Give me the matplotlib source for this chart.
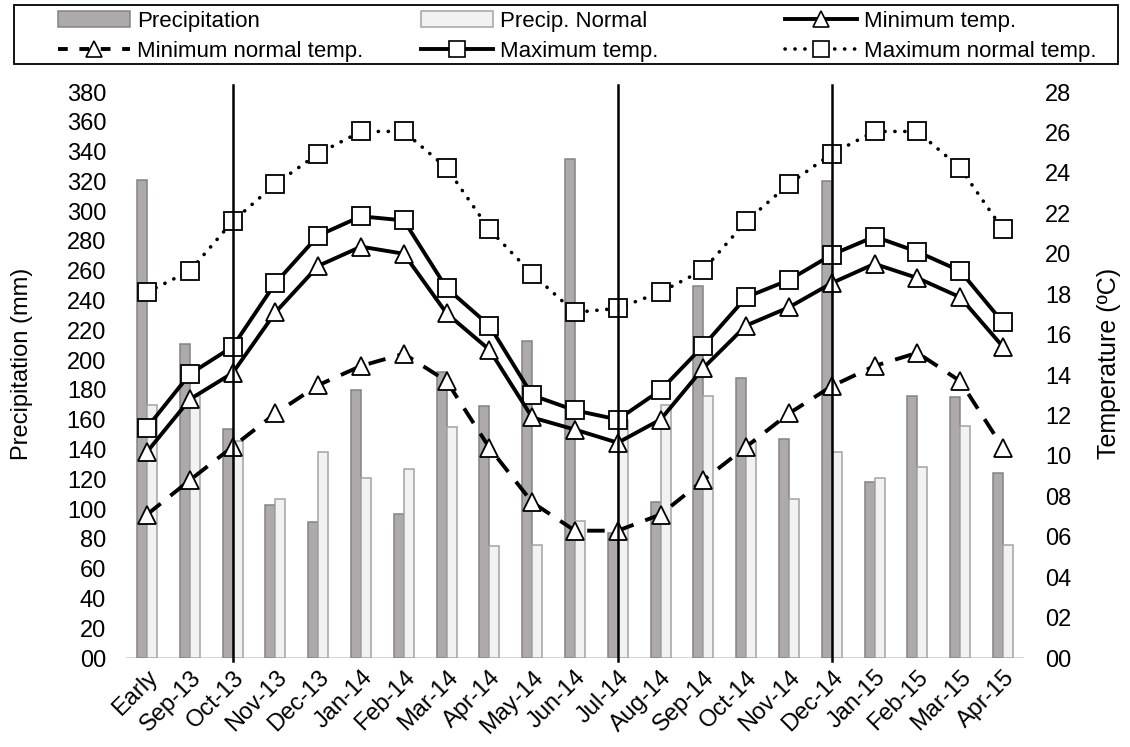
import matplotlib
matplotlib.use("Agg")
import matplotlib.pyplot as plt
from matplotlib.patches import Patch, Rectangle
from matplotlib.lines import Line2D
from matplotlib.transforms import ScaledTranslation
import numpy as np

categories = ["Early", "Sep-13", "Oct-13", "Nov-13", "Dec-13", "Jan-14", "Feb-14",
              "Mar-14", "Apr-14", "May-14", "Jun-14", "Jul-14", "Aug-14", "Sep-14",
              "Oct-14", "Nov-14", "Dec-14", "Jan-15", "Feb-15", "Mar-15", "Apr-15"]

# precipitation (mm)
precip = [321, 211, 154, 103, 91, 180, 97, 192, 169, 213, 335, 84, 105, 250,
          188, 147, 320, 118, 176, 175, 124]
precip_normal = [170, 176, 146, 107, 138, 121, 127, 155, 75, 76, 92, 160, 170, 176,
                 145, 107, 138, 121, 128, 156, 76]

# temperature (C)
min_temp = [10.2, 12.8, 14.1, 17.1, 19.4, 20.35, 20.0, 17.05, 15.25, 11.9, 11.3, 10.65,
            11.8, 14.35, 16.45, 17.35, 18.55, 19.5, 18.8, 17.85, 15.4]
min_normal = [7.1, 8.8, 10.45, 12.1, 13.5, 14.45, 15.05, 13.7, 10.4, 7.7, 6.3, 6.3,
              7.1, 8.8, 10.45, 12.1, 13.45, 14.45, 15.1, 13.7, 10.4]
max_temp = [11.4, 14.05, 15.4, 18.55, 20.9, 21.85, 21.65, 18.3, 16.45, 13.0, 12.25, 11.8,
            13.25, 15.45, 17.85, 18.7, 19.95, 20.85, 20.1, 19.15, 16.6]
max_normal = [18.1, 19.15, 21.6, 23.45, 24.95, 26.05, 26.05, 24.25, 21.2, 19.0, 17.1, 17.3,
              18.1, 19.2, 21.6, 23.45, 24.95, 26.05, 26.05, 24.25, 21.2]

divider_months = ["Oct-13", "Jul-14", "Dec-14"]

plt.rcParams["font.family"] = ["Liberation Sans", "DejaVu Sans"]

W, H = 1130, 747
x = np.arange(len(categories))
w = 0.235
tick_fs = 17
leg_fs = 16

fig = plt.figure(figsize=(W / 100, H / 100), dpi=100)
ax = fig.add_axes([0.1112, 0.1191, 0.7953, 0.7577])

ax.bar(x - w / 2, precip, w, color="#aeaaaa", edgecolor="#858282", linewidth=1.1, zorder=2)
ax.bar(x + w / 2, precip_normal, w, color="#f2f2f2", edgecolor="#a3a3a3", linewidth=1.1, zorder=2)
ax.axhline(0, color="#d9d9d9", lw=1.5, zorder=1)

ax.set_xlim(-0.5, len(categories) - 0.5)
ax.set_ylim(0, 380)
left_ticks = list(range(0, 381, 20))
ax.set_yticks(left_ticks)
ax.set_yticklabels(["%02d" % v for v in left_ticks], fontsize=tick_fs)
ax.set_xticks(x)
ax.set_xticklabels(categories, rotation=45, ha="right", rotation_mode="anchor", fontsize=tick_fs)
shift = ScaledTranslation(7 / 72, -2 / 72, fig.dpi_scale_trans)
for lab in ax.get_xticklabels():
    lab.set_transform(lab.get_transform() + shift)
ax.tick_params(length=0)
ax.tick_params(axis="y", pad=14)
ax.tick_params(axis="x", pad=6)
ax.set_ylabel("Precipitation (mm)", fontsize=17)
ax.yaxis.set_label_coords(-0.103, 0.52)
for s in ax.spines.values():
    s.set_visible(False)

ax2 = ax.twinx()
ax2.set_ylim(0, 28)
right_ticks = list(range(0, 29, 2))
ax2.set_yticks(right_ticks)
ax2.set_yticklabels(["%02d" % v for v in right_ticks], fontsize=tick_fs)
ax2.tick_params(length=0, pad=15)
ax2.set_ylabel("Temperature (ºC)", fontsize=18)
ax2.yaxis.set_label_coords(1.081, 0.52)
for s in ax2.spines.values():
    s.set_visible(False)

ms = 13.5
mk = dict(markerfacecolor="white", markeredgecolor="black", markeredgewidth=1.3, markersize=ms)
dotted = (0, (0.05, 2.7))
dashed = (0, (4.5, 3.2))
ax2.plot(x, max_normal, color="black", lw=2.6, linestyle=dotted,
         dash_capstyle="round", marker="s", **mk)
ax2.plot(x, min_normal, color="black", lw=2.8, linestyle=dashed, marker="^", **mk)
ax2.plot(x, max_temp, color="black", lw=2.8, marker="s", **mk)
ax2.plot(x, min_temp, color="black", lw=2.8, marker="^", **mk)

for m in divider_months:
    ax2.axvline(categories.index(m), ymin=-0.005, ymax=1.012, color="black",
                lw=1.8, clip_on=False, zorder=10)

# legend: three equal-width columns inside one frame
lmk = dict(markerfacecolor="white", markeredgecolor="black", markeredgewidth=1.2, markersize=11)
columns = [
    ([Patch(facecolor="#aeaaaa", edgecolor="#858282", linewidth=1.1),
      Line2D([], [], color="black", lw=2.8, linestyle=(0, (2.5, 3.0)), marker="^", **lmk)],
     ["Precipitation", "Minimum normal temp."]),
    ([Patch(facecolor="#f2f2f2", edgecolor="#a3a3a3", linewidth=1.1),
      Line2D([], [], color="black", lw=2.8, marker="s", **lmk)],
     ["Precip. Normal", "Maximum temp."]),
    ([Line2D([], [], color="black", lw=2.8, marker="^", **lmk),
      Line2D([], [], color="black", lw=2.6, linestyle=dotted, dash_capstyle="round",
             marker="s", **lmk)],
     ["Minimum temp.", "Maximum normal temp."]),
]
col_x = [58, 421, 785]
for cx, (hs, ls) in zip(col_x, columns):
    fig.legend(hs, ls, loc="center left", bbox_to_anchor=(cx / W, 1 - 36.5 / H),
               bbox_transform=fig.transFigure, frameon=False, borderpad=0,
               borderaxespad=0, handlelength=3.25, handletextpad=0.3, fontsize=leg_fs,
               numpoints=1, labelspacing=0.4)
fig.add_artist(Rectangle((14 / W, 1 - 64 / H), 1104 / W, 59 / H, transform=fig.transFigure,
                         fill=False, edgecolor="black", linewidth=1.3))

plt.savefig("out.png", dpi=100)
